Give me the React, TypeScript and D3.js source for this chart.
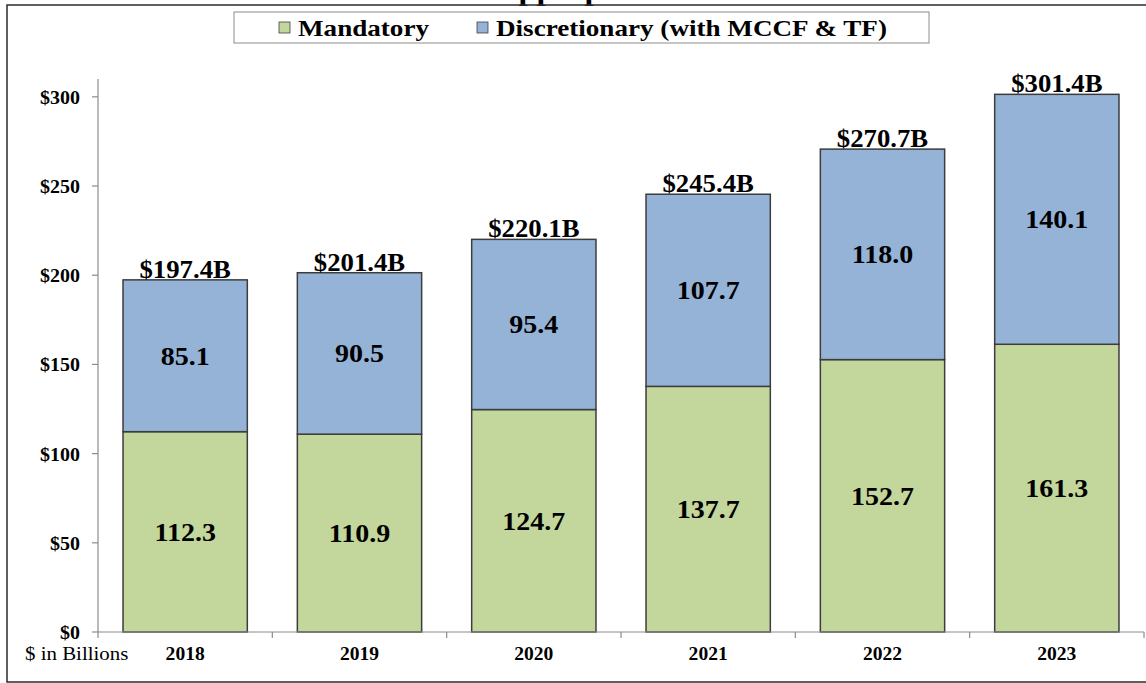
import type { ReactNode } from 'react'
import { scaleBand, scaleLinear, stack } from 'd3'

const years = ['2018', '2019', '2020', '2021', '2022', '2023']
const mandatory = [112.3, 110.9, 124.7, 137.7, 152.7, 161.3]
const discretionary = [85.1, 90.5, 95.4, 107.7, 118.0, 140.1]
const yTicks = [0, 50, 100, 150, 200, 250, 300]
const seriesNames = ['Mandatory', 'Discretionary (with MCCF & TF)']
const seriesColors = ['#c3d69b', '#95b3d7']

const font = '"Liberation Serif", "Times New Roman", serif'

// the source image is a bit stretched sideways, so text gets a small x-scale
function Label({
  x,
  y,
  size,
  anchor = 'middle',
  bold = true,
  sx = 1.12,
  children,
}: {
  x: number
  y: number
  size: number
  anchor?: 'start' | 'middle' | 'end'
  bold?: boolean
  sx?: number
  children: ReactNode
}) {
  return (
    <text
      transform={`translate(${x},${y}) scale(${sx},1)`}
      textAnchor={anchor}
      fontSize={size}
      fontWeight={bold ? 'bold' : 'normal'}
      fill="#000"
    >
      {children}
    </text>
  )
}

export default function App() {
  const width = 1146
  const height = 683
  const x0 = 98
  const x1 = 1144
  const yBase = 632

  const rows = years.map((year, i) => ({ year, m: mandatory[i], d: discretionary[i] }))
  const layers = stack<{ year: string; m: number; d: number }>().keys(['m', 'd'])(rows)

  const xScale = scaleBand<string>().domain(years).range([x0, x1]).paddingInner(0.287).paddingOuter(0.1435)
  const yScale = scaleLinear().domain([0, 310]).range([yBase, 79])
  const band = (x1 - x0) / years.length

  return (
    <svg
      width={width}
      height={height}
      viewBox={`0 0 ${width} ${height}`}
      style={{ position: 'absolute', left: 0, top: 0, background: '#fff', fontFamily: font }}
    >
      <rect width={width} height={height} fill="#ffffff" />
      {/* title, cut off at the top edge like the source: only descenders show */}
      <Label x={602} y={0} size={29}>
        Appropriations
      </Label>
      <path d={`M${width + 5},5 H7 V682 H${width + 5}`} fill="none" stroke="#2b2b2b" strokeWidth="1.5" />

      {/* legend */}
      <rect x={234} y={12} width={695} height={31} fill="#fff" stroke="#8c8c8c" strokeWidth="1" />
      {seriesNames.map((name, i) => {
        const lx = i === 0 ? 279 : 477
        return (
          <g key={name}>
            <rect x={lx} y={22} width={11} height={11} fill={seriesColors[i]} stroke="#404040" strokeWidth="0.8" />
            <Label x={lx + 19} y={36} size={24} anchor="start" sx={1.13}>
              {name}
            </Label>
          </g>
        )
      })}

      {/* y axis */}
      <line x1={x0} x2={x0} y1={79} y2={yBase} stroke="#8c8c8c" strokeWidth="1.2" />
      {yTicks.map((t) => (
        <g key={t}>
          <line x1={x0 - 6} x2={x0} y1={yScale(t)} y2={yScale(t)} stroke="#8c8c8c" strokeWidth="1.2" />
          <Label x={80} y={yScale(t) + 7} size={19} anchor="end" sx={1.05}>
            ${t}
          </Label>
        </g>
      ))}

      {/* bars */}
      {layers.map((layer, li) =>
        layer.map((seg, i) => {
          const bx = xScale(years[i]) ?? 0
          const top = yScale(seg[1])
          const bottom = yScale(seg[0])
          const value = li === 0 ? mandatory[i] : discretionary[i]
          return (
            <g key={`${li}-${i}`}>
              <rect
                x={bx}
                y={top}
                width={xScale.bandwidth()}
                height={bottom - top}
                fill={seriesColors[li]}
                stroke="#3c3c3c"
                strokeWidth="1.5"
              />
              <Label x={bx + xScale.bandwidth() / 2} y={(top + bottom) / 2 + 9} size={25}>
                {value.toFixed(1)}
              </Label>
            </g>
          )
        }),
      )}

      {/* totals */}
      {rows.map((r, i) => (
        <Label
          key={r.year}
          x={(xScale(r.year) ?? 0) + xScale.bandwidth() / 2}
          y={yScale(r.m + r.d) - 2}
          size={25}
          sx={1.07}
        >
          ${(mandatory[i] + discretionary[i]).toFixed(1)}B
        </Label>
      ))}

      {/* x axis */}
      <line x1={x0} x2={x1} y1={yBase} y2={yBase} stroke="#8c8c8c" strokeWidth="1.2" />
      {[0, ...years.map((_, i) => i + 1)].map((k) => (
        <line
          key={k}
          x1={x0 + band * k}
          x2={x0 + band * k}
          y1={yBase}
          y2={yBase + 6}
          stroke="#8c8c8c"
          strokeWidth="1.2"
        />
      ))}
      {years.map((year) => (
        <Label key={year} x={(xScale(year) ?? 0) + xScale.bandwidth() / 2} y={660} size={19} sx={1.03}>
          {year}
        </Label>
      ))}
      <Label x={25} y={660} size={19} anchor="start" bold={false} sx={1.1}>
        $ in Billions
      </Label>
    </svg>
  )
}
